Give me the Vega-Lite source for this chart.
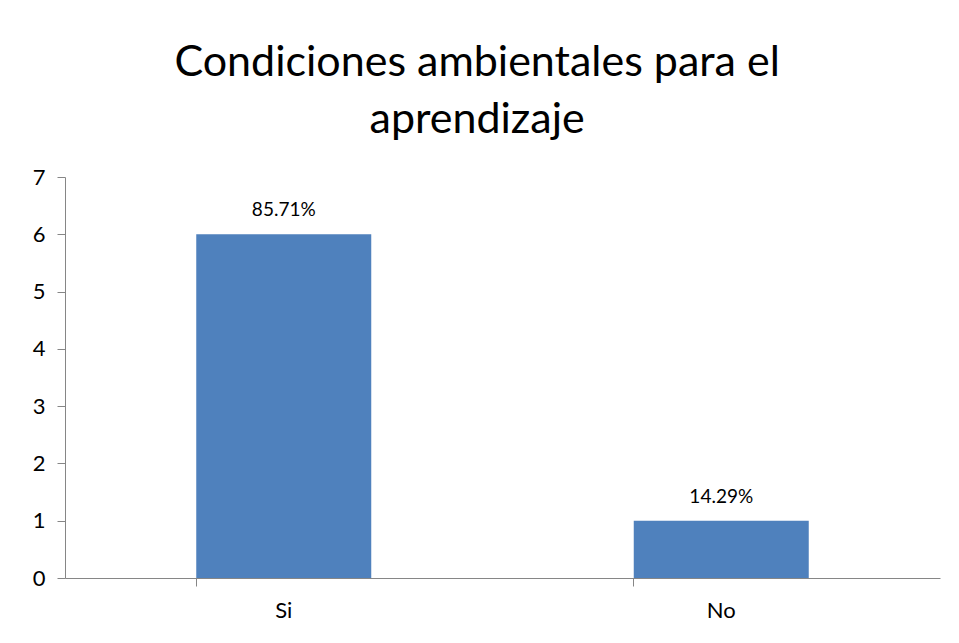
{
  "$schema": "https://vega.github.io/schema/vega-lite/v6.json",
  "autosize": {"type": "none"},
  "width": 875,
  "height": 401,
  "padding": {"left": 65, "top": 177, "right": 19, "bottom": 65},
  "background": "white",
  "config": {"view": {"stroke": null}, "font": "Lato"},
  "title": {
    "text": ["Condiciones ambientales para el", "aprendizaje"],
    "font": "Lato",
    "fontSize": 43,
    "fontWeight": "normal",
    "color": "#000000",
    "lineHeight": 57,
    "anchor": "middle",
    "frame": "bounds",
    "dx": -9,
    "offset": 24
  },
  "data": {
    "values": [
      {"respuesta": "Si", "cantidad": 6, "porcentaje": "85.71%"},
      {"respuesta": "No", "cantidad": 1, "porcentaje": "14.29%"}
    ]
  },
  "encoding": {
    "x": {
      "field": "respuesta",
      "type": "nominal",
      "sort": ["Si", "No"],
      "scale": {"paddingInner": 0.6, "paddingOuter": 0.3},
      "axis": {
        "title": null,
        "labelAngle": 0,
        "labelFont": "Lato",
        "labelFontSize": 22,
        "labelColor": "#000000",
        "labelPadding": 14,
        "domainColor": "#868686",
        "tickColor": "#868686",
        "tickSize": 8,
        "bandPosition": 0,
        "grid": false
      }
    },
    "y": {
      "field": "cantidad",
      "type": "quantitative",
      "scale": {"domain": [0, 7]},
      "axis": {
        "title": null,
        "values": [0, 1, 2, 3, 4, 5, 6, 7],
        "labelFont": "Lato",
        "labelFontSize": 22,
        "labelColor": "#000000",
        "labelPadding": 12,
        "domainColor": "#868686",
        "tickColor": "#868686",
        "tickSize": 8,
        "grid": false
      }
    }
  },
  "layer": [
    {"mark": {"type": "bar", "color": "#4F81BD"}},
    {
      "mark": {"type": "text", "dy": -24, "fontSize": 19, "color": "#000000"},
      "encoding": {"text": {"field": "porcentaje"}}
    }
  ]
}
